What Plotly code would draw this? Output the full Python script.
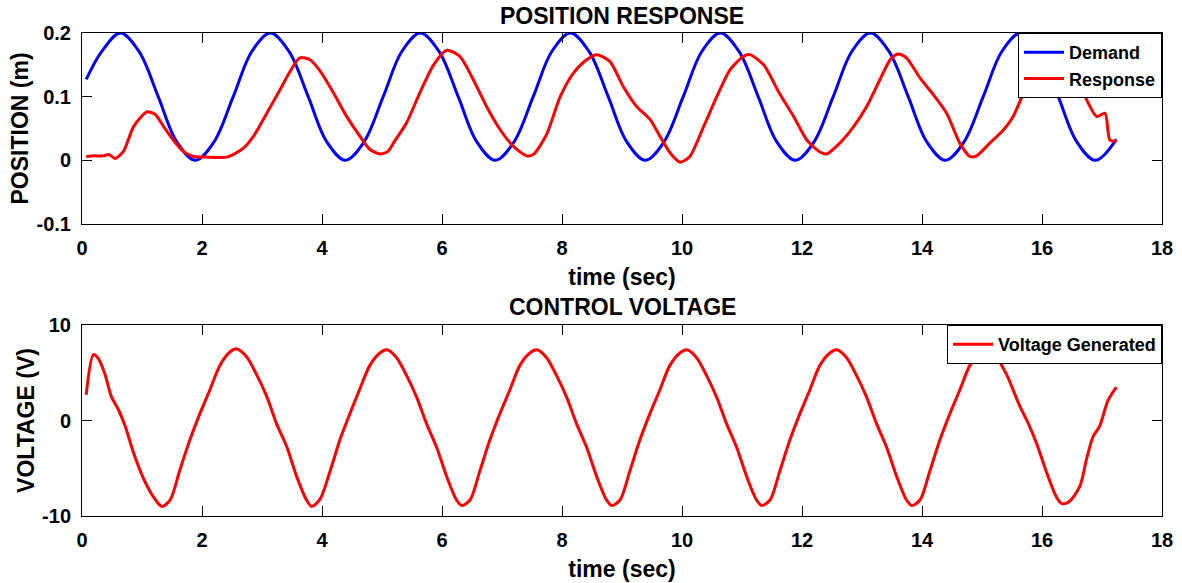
import plotly.graph_objects as go

# ---------------- data ----------------
time_demand = [0.07, 0.33, 0.64, 0.95, 1.27, 1.58, 1.89, 2.20, 2.52, 2.83,
               3.14, 3.45, 3.77, 4.08, 4.39, 4.70, 5.02, 5.33,
               5.64, 5.95, 6.27, 6.58, 6.89, 7.20, 7.52, 7.83,
               8.14, 8.45, 8.77, 9.08, 9.39, 9.70, 10.02, 10.33,
               10.64, 10.95, 11.27, 11.58, 11.89, 12.20, 12.52, 12.83,
               13.14, 13.45, 13.77, 14.08, 14.39, 14.70, 15.02, 15.33,
               15.64, 15.95, 16.27, 16.58, 16.89, 17.24]
demand = [0.127, 0.171,
          0.200, 0.171, 0.100, 0.029, 0.000, 0.029, 0.100, 0.171,
          0.200, 0.171, 0.100, 0.029, 0.000, 0.029, 0.100, 0.171,
          0.200, 0.171, 0.100, 0.029, 0.000, 0.029, 0.100, 0.171,
          0.200, 0.171, 0.100, 0.029, 0.000, 0.029, 0.100, 0.171,
          0.200, 0.171, 0.100, 0.029, 0.000, 0.029, 0.100, 0.171,
          0.200, 0.171, 0.100, 0.029, 0.000, 0.029, 0.100, 0.171,
          0.200, 0.171, 0.100, 0.029, 0.000, 0.033]

time_response = [0.07, 0.20, 0.35, 0.45, 0.55, 0.69, 0.86, 1.08, 1.22, 1.36,
                 1.52, 1.69, 1.86, 2.10, 2.41, 2.52, 2.69, 2.86, 3.08, 3.30,
                 3.47, 3.63, 3.80, 3.97, 4.19, 4.41, 4.63, 4.80, 4.97, 5.10,
                 5.19, 5.41, 5.63, 5.86, 6.08, 6.30, 6.52, 6.74, 6.97, 7.19,
                 7.41, 7.52, 7.74, 7.97, 8.19, 8.41, 8.58, 8.80, 9.02, 9.24,
                 9.47, 9.63, 9.80, 9.97, 10.13, 10.36, 10.58, 10.80, 11.02, 11.13,
                 11.36, 11.63, 11.86, 12.08, 12.30, 12.41, 12.63, 12.86, 13.08, 13.30,
                 13.47, 13.60, 13.74, 13.97, 14.19, 14.41, 14.63, 14.80, 14.91, 15.13,
                 15.36, 15.52, 15.74, 15.95, 16.15, 16.40, 16.66, 16.91, 17.05, 17.13,
                 17.24]
response = [0.006, 0.007, 0.007, 0.009, 0.003, 0.014, 0.053, 0.076, 0.072, 0.053,
            0.032, 0.014, 0.006, 0.005, 0.005, 0.009, 0.019, 0.038, 0.074, 0.111,
            0.140, 0.161, 0.158, 0.140, 0.106, 0.069, 0.038, 0.017, 0.010, 0.014,
            0.027, 0.059, 0.106, 0.150, 0.173, 0.163, 0.127, 0.085, 0.048, 0.022,
            0.007, 0.009, 0.040, 0.100, 0.137, 0.158, 0.166, 0.155, 0.116, 0.085,
            0.064, 0.038, 0.012, -0.003, 0.006, 0.053, 0.100, 0.142, 0.163, 0.166,
            0.150, 0.104, 0.069, 0.032, 0.013, 0.010, 0.027, 0.053, 0.085, 0.127,
            0.158, 0.167, 0.161, 0.129, 0.103, 0.074, 0.027, 0.006, 0.007, 0.027,
            0.048, 0.069, 0.116, 0.150, 0.168, 0.150, 0.111, 0.069, 0.074, 0.032,
            0.030]

time_voltage = [0.07, 0.19, 0.27, 0.38, 0.49, 0.61, 0.72, 0.86, 1.02, 1.19,
                1.33, 1.47, 1.63, 1.80, 1.97, 2.13, 2.30, 2.47, 2.58, 2.74, 2.91, 3.08, 3.24, 3.41, 3.58, 3.74,
                3.83, 3.97, 4.13, 4.30, 4.47, 4.63, 4.80, 4.97, 5.08, 5.24, 5.41, 5.58, 5.74, 5.91, 6.08, 6.24,
                6.33, 6.47, 6.63, 6.80, 6.97, 7.13, 7.30, 7.47, 7.58, 7.74, 7.91, 8.08, 8.24, 8.41, 8.58, 8.74,
                8.83, 8.97, 9.13, 9.30, 9.47, 9.63, 9.80, 9.97, 10.08, 10.24, 10.41, 10.58, 10.74, 10.91, 11.08, 11.24,
                11.33, 11.47, 11.63, 11.80, 11.97, 12.13, 12.30, 12.47, 12.58, 12.74, 12.91, 13.08, 13.24, 13.41, 13.58, 13.74,
                13.83, 13.97, 14.13, 14.30, 14.47, 14.63, 14.80, 14.97, 15.08, 15.24, 15.41, 15.63, 15.77, 15.91, 16.08, 16.24,
                16.33, 16.45, 16.63, 16.74, 16.85, 16.96, 17.10, 17.24]
voltage = [2.7, 6.9, 6.5, 4.9, 2.5, 1.1, -0.6, -3.4, -6.0, -8.0,
           -9.0, -8.3, -5.2, -2.0, 0.8, 3.2, 5.8, 7.2, 7.5, 6.7, 4.8, 2.5, -0.3, -2.7, -5.9, -8.3,
           -9.0, -8.2, -5.4, -2.0, 0.8, 3.3, 5.8, 7.1, 7.4, 6.6, 4.7, 2.4, -0.3, -2.8, -5.9, -8.3,
           -8.9, -8.3, -5.3, -2.0, 0.8, 3.2, 5.8, 7.1, 7.4, 6.6, 4.7, 2.4, -0.3, -2.8, -5.9, -8.3,
           -8.9, -8.3, -5.3, -2.0, 0.8, 3.2, 5.8, 7.1, 7.4, 6.6, 4.7, 2.4, -0.3, -2.8, -5.9, -8.3,
           -8.9, -8.3, -5.3, -2.0, 0.8, 3.2, 5.8, 7.1, 7.4, 6.6, 4.7, 2.4, -0.3, -2.8, -5.9, -8.3,
           -8.9, -8.3, -5.3, -2.0, 0.8, 3.2, 5.8, 7.1, 7.4, 6.6, 4.8, 1.5, -0.3, -2.4, -5.5, -8.0,
           -8.7, -8.5, -6.9, -4.1, -1.7, -0.6, 2.1, 3.5]

x_ticks = [0, 2, 4, 6, 8, 10, 12, 14, 16, 18]
pos_ticks = [-0.1, 0, 0.1, 0.2]
pos_ticktext = ["-0.1", "0", "0.1", "0.2"]
volt_ticks = [-10, 0, 10]
volt_ticktext = ["-10", "0", "10"]

# ---------------- figure ----------------
FONT = "Liberation Sans, Arial, sans-serif"
BLUE = "#0000FF"
RED = "#FF0000"

fig = go.Figure()
fig.add_trace(go.Scatter(x=time_demand, y=demand, name="Demand", mode="lines",
                         line=dict(color=BLUE, width=3, shape="spline", smoothing=1),
                         xaxis="x", yaxis="y", legend="legend"))
fig.add_trace(go.Scatter(x=time_response, y=response, name="Response", mode="lines",
                         line=dict(color=RED, width=3, shape="spline", smoothing=0.7),
                         xaxis="x", yaxis="y", legend="legend"))
fig.add_trace(go.Scatter(x=time_voltage, y=voltage, name="Voltage Generated", mode="lines",
                         line=dict(color=RED, width=3, shape="spline", smoothing=0.8),
                         xaxis="x2", yaxis="y2", legend="legend2"))

tickfont = dict(family=FONT, size=20, color="black", weight="bold")
titlefont = dict(family=FONT, size=23, color="black", weight="bold")
legendfont = dict(family=FONT, size=18, color="black", weight="bold")

axis_common = dict(showline=True, linecolor="black", linewidth=1, mirror="ticks",
                   ticks="inside", ticklen=10, tickwidth=1, tickcolor="black",
                   showgrid=False, zeroline=False, tickfont=tickfont,
                   automargin=False)

top_dom = [0.6046, 1.0]
bot_dom = [0.0, 0.3954]

fig.update_layout(
    width=1182, height=583,
    margin=dict(l=82, r=20, t=33, b=67, autoexpand=False),
    paper_bgcolor="white", plot_bgcolor="white",
    font=dict(family=FONT, color="black"),
    xaxis=dict(domain=[0, 1], anchor="y", range=[0, 18], tickvals=x_ticks,
               title=dict(text="time (sec)", font=titlefont, standoff=10),
               ticklabelstandoff=6, **axis_common),
    yaxis=dict(domain=top_dom, anchor="x", range=[-0.1, 0.2], tickvals=pos_ticks,
               ticktext=pos_ticktext,
               title=dict(text="POSITION (m)", font=titlefont, standoff=1),
               ticklabelstandoff=6, **axis_common),
    xaxis2=dict(domain=[0, 1], anchor="y2", range=[0, 18], tickvals=x_ticks,
                title=dict(text="time (sec)", font=titlefont, standoff=10),
                ticklabelstandoff=6, **axis_common),
    yaxis2=dict(domain=bot_dom, anchor="x2", range=[-10, 10], tickvals=volt_ticks,
                ticktext=volt_ticktext,
                title=dict(text="VOLTAGE (V)", font=titlefont, standoff=1),
                ticklabelstandoff=6, **axis_common),
    legend=dict(x=1, xanchor="right", y=1, yanchor="top", itemwidth=40,
                bgcolor="white", bordercolor="black", borderwidth=1,
                font=legendfont),
    legend2=dict(x=1, xanchor="right", y=bot_dom[1], yanchor="top", itemwidth=40,
                 bgcolor="white", bordercolor="black", borderwidth=1,
                 font=legendfont),
    annotations=[
        dict(text="POSITION RESPONSE", xref="paper", yref="paper", x=0.5, y=1.0362,
             xanchor="center", yanchor="middle", showarrow=False, font=titlefont),
        dict(text="CONTROL VOLTAGE", xref="paper", yref="paper", x=0.5, y=0.4317,
             xanchor="center", yanchor="middle", showarrow=False, font=titlefont),
    ],
    showlegend=True,
)

fig.write_html("out.html",
               config={"displayModeBar": False},
               post_script="document.body.style.margin='0px';document.body.style.overflow='hidden';")
